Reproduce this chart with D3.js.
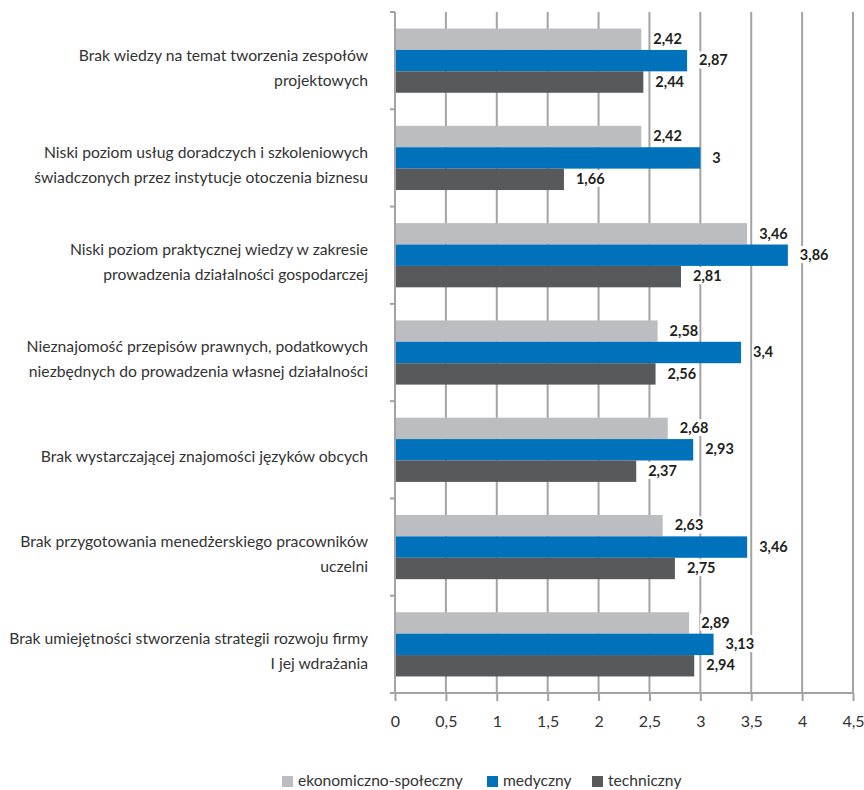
<!DOCTYPE html>
<html>
<head>
<meta charset="utf-8">
<script src="https://cdn.jsdelivr.net/npm/d3@7"></script>
<style>
  html, body { margin: 0; padding: 0; background: #fff; }
  svg { display: block; }
</style>
</head>
<body>
<svg id="chart" width="864" height="790"></svg>
<script>
// ---- data ----
const categories = [
  ["Brak wiedzy na temat tworzenia zespołów", "projektowych"],
  ["Niski poziom usług doradczych i szkoleniowych", "świadczonych przez instytucje otoczenia biznesu"],
  ["Niski poziom praktycznej wiedzy w zakresie", "prowadzenia działalności gospodarczej"],
  ["Nieznajomość przepisów prawnych, podatkowych", "niezbędnych do prowadzenia własnej działalności"],
  ["Brak wystarczającej znajomości języków obcych"],
  ["Brak przygotowania menedżerskiego pracowników", "uczelni"],
  ["Brak umiejętności stworzenia strategii rozwoju firmy", "I jej wdrażania"]
];
const seriesNames = ["ekonomiczno-społeczny", "medyczny", "techniczny"];
const ekonomiczno = [2.42, 2.42, 3.46, 2.58, 2.68, 2.63, 2.89];
const medyczny    = [2.87, 3.00, 3.86, 3.40, 2.93, 3.46, 3.13];
const techniczny  = [2.44, 1.66, 2.81, 2.56, 2.37, 2.75, 2.94];
const xTicks = [0, 0.5, 1, 1.5, 2, 2.5, 3, 3.5, 4, 4.5];
const colors = ["#bcbdc0", "#0071bb", "#58595b"];

const seriesValues = [ekonomiczno, medyczny, techniczny];
const FONT = "Lato, 'Open Sans', sans-serif";
const fmt = v => String(+v.toFixed(2)).replace(".", ",");

const svg = d3.select("#chart");
const plotLeft = 395, plotRight = 853, plotTop = 12, plotBottom = 693;

const x = d3.scaleLinear().domain([0, 4.5]).range([plotLeft, plotRight]);
const idx = d3.range(categories.length);
const y = d3.scaleBand().domain(idx).range([plotTop, plotBottom])
  .paddingInner(0.34).paddingOuter(0.17);
const ys = d3.scaleBand().domain(d3.range(3)).range([0, y.bandwidth()]);

const gridColor = "#a3a3a3";

// gridlines
svg.append("g").selectAll("line").data(xTicks.filter(t => t > 0)).join("line")
  .attr("x1", d => x(d)).attr("x2", d => x(d))
  .attr("y1", plotTop).attr("y2", plotBottom)
  .attr("stroke", gridColor).attr("stroke-width", 2);

// bars
const groups = svg.append("g").selectAll("g").data(idx).join("g")
  .attr("transform", i => `translate(0,${y(i)})`);

groups.each(function(i) {
  const g = d3.select(this);
  seriesValues.forEach((vals, s) => {
    g.append("rect")
      .attr("x", x(0)).attr("y", ys(s))
      .attr("width", x(vals[i]) - x(0)).attr("height", ys.bandwidth())
      .attr("fill", colors[s]);
  });
  seriesValues.forEach((vals, s) => {
    const t = g.append("text")
      .attr("x", x(vals[i]) + 12).attr("y", ys(s) + ys.bandwidth() / 2 + 1)
      .attr("dominant-baseline", "middle")
      .attr("font-family", FONT).attr("font-weight", 700).attr("font-size", 14.5)
      .attr("fill", "#231f20").text(fmt(vals[i]));
    const bb = t.node().getBBox();
    g.insert("rect", function() { return t.node(); })
      .attr("x", bb.x - 1).attr("y", bb.y).attr("width", bb.width + 2).attr("height", bb.height)
      .attr("fill", "#fff");
  });
});

// y axis line + category boundary ticks
svg.append("line").attr("x1", plotLeft).attr("x2", plotLeft)
  .attr("y1", plotTop).attr("y2", plotBottom)
  .attr("stroke", gridColor).attr("stroke-width", 2);
const step = y.step();
svg.append("g").selectAll("line").data(d3.range(categories.length)).join("line")
  .attr("x1", plotLeft - 5).attr("x2", plotLeft)
  .attr("y1", i => plotTop + i * step).attr("y2", i => plotTop + i * step)
  .attr("stroke", gridColor).attr("stroke-width", 2);

// x axis
const xAxis = d3.axisBottom(x).tickValues(xTicks).tickSize(8).tickPadding(15)
  .tickFormat(d => String(d).replace(".", ","));
const gx = svg.append("g").attr("transform", `translate(0,${plotBottom})`).call(xAxis);
gx.select(".domain").attr("stroke", gridColor).attr("stroke-width", 2)
  .attr("d", `M${plotLeft - 5},0H${plotRight}`);
gx.selectAll(".tick line").attr("stroke", gridColor).attr("stroke-width", 2);
gx.selectAll(".tick text").attr("font-family", FONT).attr("font-size", 16)
  .attr("fill", "#333");

// category labels
const lab = svg.append("g").selectAll("text").data(idx).join("text")
  .attr("text-anchor", "end")
  .attr("font-family", FONT).attr("font-size", 15.7).attr("fill", "#333");
lab.each(function(i) {
  const lines = categories[i];
  const cy = y(i) + y.bandwidth() / 2;
  const lh = 25;
  const t = d3.select(this);
  lines.forEach((ln, k) => {
    t.append("tspan").attr("x", 368)
      .attr("y", cy + 8.5 + (k - (lines.length - 1) / 2) * lh)
      .attr("dominant-baseline", "middle")
      .text(ln);
  });
});

// legend
const legendX = [282, 487, 592];
const lg = svg.append("g").selectAll("g").data(seriesNames).join("g")
  .attr("transform", (d, i) => `translate(${legendX[i]},0)`);
lg.append("rect").attr("x", 0).attr("y", 776).attr("width", 11).attr("height", 11)
  .attr("fill", (d, i) => colors[i]);
lg.append("text").attr("x", 16).attr("y", 786)
  .attr("font-family", FONT).attr("font-size", 15.6).attr("fill", "#333")
  .text(d => d);
</script>
</body>
</html>
